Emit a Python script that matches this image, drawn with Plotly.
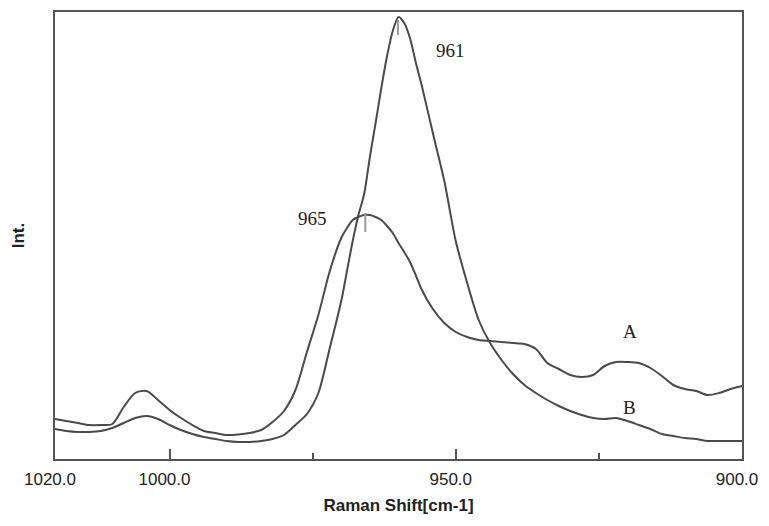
import plotly.graph_objects as go

# Raman shift grid (cm-1)
wavenumber = [1020, 1018, 1016, 1014, 1012, 1010, 1008, 1006, 1004, 1002,
              1000, 998, 996, 994, 992, 990, 988, 986, 984, 982,
              980, 978, 976, 974, 972, 970, 969, 968, 967, 966, 965, 964, 963, 962,
              961, 960, 959, 958, 957, 956, 954, 952, 950, 948, 946, 944, 942,
              940, 938, 936, 934, 932, 930, 928, 926, 924, 922,
              920, 918, 916, 914, 912, 910, 908, 906, 904, 902, 900]

# Intensity (arbitrary units)
intensity_A = [40, 38, 36, 34, 34, 35, 52, 66, 68, 59,
               49, 41, 34, 28, 26, 24, 24.5, 26, 29, 37,
               48, 69, 107, 144, 188, 221, 231, 239, 242, 244, 244, 242, 239, 233,
               226, 216, 207, 197, 184, 170, 150, 136, 127, 122, 119, 118, 117,
               116, 115, 110, 96, 90, 84, 82, 84, 93, 97,
               97, 96, 91, 83, 74, 70, 68, 64, 66, 70, 73]

intensity_B = [30, 28, 27, 27, 28, 31, 36, 41, 43, 40,
               34, 29, 25, 22, 20, 18, 17, 17, 18, 20,
               24, 34, 45, 66, 111, 158, 188, 218, 244, 265, 302, 336, 371, 403,
               428, 442, 436, 421, 397, 375, 326, 278, 218, 176, 139, 116, 99,
               85, 74, 66, 59, 53, 48, 44, 41, 40, 41,
               38, 34, 30, 25, 23, 21, 20, 18, 18, 18, 18]

# Peak annotations
peak_labels = ["961", "965"]
peak_pos_x = [960.1, 965.8]
peak_tick_top = [439, 246]
peak_tick_bottom = [424, 227]
peak_label_x = [951.0, 975.1]
peak_label_y = [409, 241]

series_labels = ["A", "B"]
series_label_x = [919.6, 919.6]
series_label_y = [128, 52]

tick_vals = [1020, 1000, 950, 900]
tick_text = ["1020.0", "1000.0", "950.0", "900.0"]
minor_vals = [975, 925]

line_color = "#4a4a4a"

fig = go.Figure()
fig.add_trace(go.Scatter(x=wavenumber, y=intensity_A, mode="lines", name="A",
                         line=dict(color=line_color, width=2, shape="spline", smoothing=0.8)))
fig.add_trace(go.Scatter(x=wavenumber, y=intensity_B, mode="lines", name="B",
                         line=dict(color=line_color, width=2, shape="spline", smoothing=0.8)))

for px, yt, yb in zip(peak_pos_x, peak_tick_top, peak_tick_bottom):
    fig.add_shape(type="line", xref="x", yref="y", x0=px, x1=px, y0=yb, y1=yt,
                  line=dict(color="#9a9a9a", width=2))

serif = "Liberation Serif, Times New Roman, serif"
for t, x, y in zip(peak_labels, peak_label_x, peak_label_y):
    fig.add_annotation(x=x, y=y, text=t, showarrow=False, xref="x", yref="y",
                       font=dict(family=serif, size=19, color="#222"))
for t, x, y in zip(series_labels, series_label_x, series_label_y):
    fig.add_annotation(x=x, y=y, text=t, showarrow=False, xref="x", yref="y",
                       font=dict(family=serif, size=19, color="#222"))

fig.update_layout(
    width=769, height=526,
    margin=dict(l=47, r=35, t=4, b=75),
    paper_bgcolor="white", plot_bgcolor="white",
    showlegend=False,
    font=dict(family="Liberation Sans, Arial, sans-serif", color="#222"),
)
fig.update_xaxes(
    range=[1020, 900], tickmode="array", tickvals=tick_vals, ticktext=tick_text,
    ticks="inside", ticklen=10, tickwidth=2, tickcolor="#555",
    showline=True, linecolor="#555", linewidth=2, mirror=True,
    showgrid=False, zeroline=False, automargin=False,
    tickfont=dict(size=17, color="#222"), ticklabelstandoff=4, ticklabelshift=5,
    minor=dict(tickmode="array", tickvals=minor_vals, ticks="inside", ticklen=6,
               tickwidth=2, tickcolor="#555", showgrid=False),
    title=dict(text="<b>Raman Shift[cm-1]</b>", font=dict(size=17, color="#222"), standoff=11),
)
fig.update_yaxes(
    range=[0, 447], showticklabels=False, ticks="",
    showline=True, linecolor="#555", linewidth=2, mirror=True,
    showgrid=False, zeroline=False, automargin=False,
    title=dict(text="<b>Int.</b>", font=dict(size=17, color="#222"), standoff=24),
)

fig.write_html("out.html")
